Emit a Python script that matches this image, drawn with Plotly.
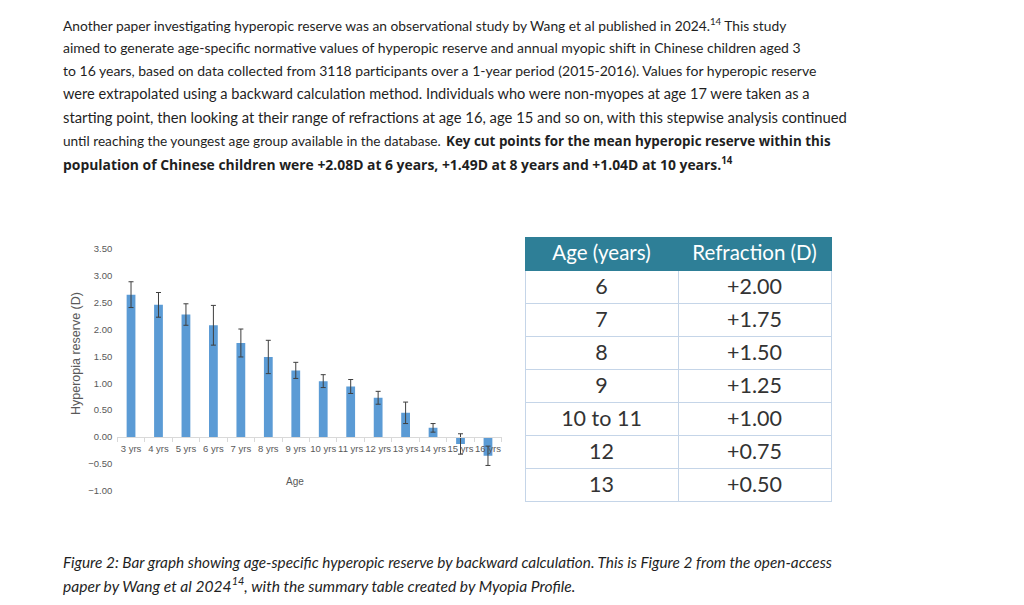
import plotly.graph_objects as go

# ---------------- data ----------------
ages = ["3 yrs", "4 yrs", "5 yrs", "6 yrs", "7 yrs", "8 yrs", "9 yrs", "10 yrs",
        "11 yrs", "12 yrs", "13 yrs", "14 yrs", "15 yrs", "16 yrs"]
reserve = [2.65, 2.46, 2.28, 2.08, 1.75, 1.49, 1.24, 1.04, 0.94, 0.73, 0.45, 0.17, -0.13, -0.35]
reserve_err = [0.24, 0.23, 0.20, 0.37, 0.26, 0.31, 0.15, 0.12, 0.13, 0.12, 0.20, 0.08, 0.19, 0.18]

table_age = ["6", "7", "8", "9", "10 to 11", "12", "13"]
table_refraction = ["+2.00", "+1.75", "+1.50", "+1.25", "+1.00", "+0.75", "+0.50"]
table_header = ["Age (years)", "Refraction (D)"]

paragraph_lines = [
    "Another paper investigating hyperopic reserve was an observational study by Wang et al published in 2024.<sup>14</sup> This study",
    "aimed to generate age-specific normative values of hyperopic reserve and annual myopic shift in Chinese children aged 3",
    "to 16 years, based on data collected from 3118 participants over a 1-year period (2015-2016). Values for hyperopic reserve",
    "were extrapolated using a backward calculation method. Individuals who were non-myopes at age 17 were taken as a",
    "starting point, then looking at their range of refractions at age 16, age 15 and so on, with this stepwise analysis continued",
    "until reaching the youngest age group available in the database.",
]
paragraph_sizes = [13.8, 14.0, 14.0, 14.6, 14.8, 13.65]
bold_lines = [
    "Key cut points for the mean hyperopic reserve within this",
    "population of Chinese children were +2.08D at 6 years, +1.49D at 8 years and +1.04D at 10 years.<sup>14</sup>",
]
bold_sizes = [13.4, 13.9]
caption_lines = [
    "<i>Figure 2: Bar graph showing age-specific hyperopic reserve by backward calculation. This is Figure 2 from the open-access</i>",
    "<i>paper by Wang et al 2024<sup>14</sup>, with the summary table created by Myopia Profile.</i>",
]
caption_sizes = [15.35, 15.6]

# page has an 8px body margin; size the figure so the page is exactly 1024x605
OFF = 8
W, H = 1024 - 2 * OFF, 605 - 2 * OFF


def px(x):
    return (x - OFF) / W


def py(y):
    return 1 - (y - OFF) / H


fig = go.Figure()

fig.add_trace(go.Bar(
    x=ages, y=reserve,
    marker=dict(color="#5B9BD5", line=dict(width=0)),
    error_y=dict(type="data", array=reserve_err, visible=True,
                 color="#3f3f3f", thickness=1, width=2.5),
    width=0.32,
    xaxis="x", yaxis="y",
    showlegend=False,
))

fig.add_trace(go.Table(
    domain=dict(x=[px(525), px(831)], y=[py(510), py(237)]),
    columnwidth=[1, 1],
    header=dict(values=table_header, fill_color="#2E7F97",
                font=dict(family="Lato", size=20.5, color="white"),
                align="center", height=33,
                line=dict(color="#2E7F97", width=1)),
    cells=dict(values=[table_age, table_refraction], fill_color="white",
               font=dict(family="Lato", size=21.5, color="#333333"),
               align="center", height=33,
               line=dict(color="#C5D5E8", width=1)),
))

y_bot_px, y_top_px = 490.7, 249.0
zero_px = 437.0

fig.update_layout(
    width=W, height=H,
    margin=dict(l=0, r=0, t=0, b=0),
    paper_bgcolor="white", plot_bgcolor="white",
    font=dict(family="Liberation Sans", color="#595959"),
    xaxis=dict(domain=[px(117.3), px(501.7)], anchor="free", position=py(zero_px),
               showline=True, linecolor="#D9D9D9", linewidth=1,
               ticks="outside", tickson="boundaries", ticklen=4, tickcolor="#D9D9D9",
               tickangle=0, automargin=False, ticklabelstandoff=3,
               tickfont=dict(size=9.5, color="#595959"), showgrid=False, fixedrange=True),
    yaxis=dict(domain=[py(y_bot_px), py(y_top_px)], range=[-1.0, 3.5], dtick=0.5,
               tickformat=".2f", showgrid=False, zeroline=False, showline=False,
               automargin=False,
               tickfont=dict(size=9.5, color="#595959"), ticklabelstandoff=4),
)

annotations = []
for i, line in enumerate(paragraph_lines):
    annotations.append(dict(
        text=line, x=px(61), y=py(24 + 23.3 * i), xref="paper", yref="paper",
        xanchor="left", yanchor="middle", showarrow=False,
        font=dict(family="Lato", size=paragraph_sizes[i], color="#1f1f1f")))
# bold sentence (continues line 6, then line 7)
annotations.append(dict(
    text=bold_lines[0], x=px(444), y=py(24 + 23.3 * 5), xref="paper", yref="paper",
    xanchor="left", yanchor="middle", showarrow=False,
    font=dict(family="Open Sans", size=bold_sizes[0], color="#1f1f1f", weight="bold")))
annotations.append(dict(
    text=bold_lines[1], x=px(61), y=py(24 + 23.3 * 6), xref="paper", yref="paper",
    xanchor="left", yanchor="middle", showarrow=False,
    font=dict(family="Open Sans", size=bold_sizes[1], color="#1f1f1f", weight="bold")))
for i, line in enumerate(caption_lines):
    annotations.append(dict(
        text=line, x=px(61), y=py(562 + 22 * i), xref="paper", yref="paper",
        xanchor="left", yanchor="middle", showarrow=False,
        font=dict(family="Lato", size=caption_sizes[i], color="#1f1f1f")))
annotations.append(dict(text="Hyperopia reserve (D)", x=px(76), y=py(354), xref="paper", yref="paper",
                        textangle=-90, showarrow=False, xanchor="center", yanchor="middle",
                        font=dict(size=12.5, color="#595959")))
annotations.append(dict(text="Age", x=px(295), y=py(481), xref="paper", yref="paper",
                        showarrow=False, xanchor="center", yanchor="middle",
                        font=dict(size=10, color="#595959")))
fig.update_layout(annotations=annotations)

fig.write_html("out.html")
